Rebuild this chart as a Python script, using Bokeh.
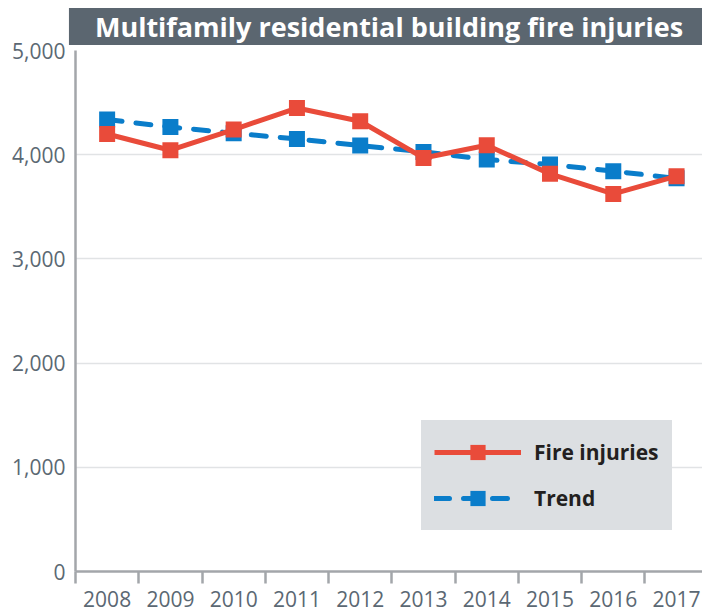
from bokeh.plotting import figure
from bokeh.models import FixedTicker, NumeralTickFormatter, Legend, LegendItem, Range1d
from bokeh.embed import file_html
from bokeh.resources import INLINE

years = ["2008", "2009", "2010", "2011", "2012", "2013", "2014", "2015", "2016", "2017"]
fire_injuries = [4199, 4043, 4241, 4448, 4321, 3969, 4091, 3816, 3624, 3794]
trend = [4337, 4266, 4206, 4151, 4088, 4027, 3954, 3906, 3842, 3773]
y_ticks = [0, 1000, 2000, 3000, 4000, 5000]

RED = "#e94b3a"
BLUE = "#0a7dca"
AXIS = "#a3a6aa"
TXT = "#5b6873"
FONT = "Open Sans"
LEG_BG = "#dcdfe2"

x = [i + 0.5 for i in range(len(years))]
boundaries = list(range(len(years) + 1))

p = figure(width=702, height=611, output_backend="svg", toolbar_location=None,
           x_range=Range1d(0, 9.91), y_range=Range1d(0, 5000),
           min_border_left=75, min_border_right=0, min_border_top=49, min_border_bottom=40,
           outline_line_color=None, background_fill_color="white")

p.title.text = "Multifamily residential building fire injuries"
p.title.align = "center"
p.title.text_font = FONT
p.title.text_font_style = "bold"
p.title.text_font_size = "27px"
p.title.text_color = "white"
p.title.background_fill_color = "#5b6670"
p.title.padding = (26, 0)
p.title.standoff = 11

# y axis
p.yaxis.ticker = FixedTicker(ticks=y_ticks)
p.yaxis.formatter = NumeralTickFormatter(format="0,0")
p.yaxis.major_tick_out = 0
p.yaxis.major_tick_in = 0
p.yaxis.minor_tick_out = 0
p.yaxis.minor_tick_in = 0
p.yaxis.axis_line_color = AXIS
p.yaxis.axis_line_width = 2.5
p.yaxis.major_label_text_font = FONT
p.yaxis.major_label_text_font_size = "21px"
p.yaxis.major_label_text_color = TXT
p.yaxis.major_label_standoff = 10

# x axis: labels at category centres, tick marks at boundaries
p.xaxis.ticker = FixedTicker(ticks=x, minor_ticks=boundaries)
p.xaxis.major_label_overrides = {xi: yr for xi, yr in zip(x, years)}
p.xaxis.major_tick_out = 0
p.xaxis.major_tick_in = 0
p.xaxis.minor_tick_out = 12
p.xaxis.minor_tick_in = 0
p.xaxis.minor_tick_line_color = AXIS
p.xaxis.minor_tick_line_width = 2.5
p.xaxis.axis_line_color = AXIS
p.xaxis.axis_line_width = 2.5
p.xaxis.major_label_text_font = FONT
p.xaxis.major_label_text_font_size = "21px"
p.xaxis.major_label_text_color = TXT
p.xaxis.major_label_standoff = 7

p.xgrid.visible = False
p.ygrid.ticker = FixedTicker(ticks=y_ticks)
p.ygrid.grid_line_color = "#e1e3e5"
p.ygrid.grid_line_width = 1.5

r_trend = p.line(x, trend, line_color=BLUE, line_width=5, line_dash="15 14", line_cap="round")
s_trend = p.scatter(x, trend, marker="square", size=16, fill_color=BLUE, line_color=None)
r_fire = p.line(x, fire_injuries, line_color=RED, line_width=5, line_join="round")
s_fire = p.scatter(x, fire_injuries, marker="square", size=16, fill_color=RED, line_color=None)

legend = Legend(items=[LegendItem(label="Fire injuries", renderers=[r_fire, s_fire]),
                       LegendItem(label="Trend", renderers=[r_trend, s_trend])],
                location=(346, 41), background_fill_color=LEG_BG, background_fill_alpha=1,
                border_line_color=LEG_BG, border_line_width=1,
                label_text_font=FONT, label_text_font_style="bold",
                label_text_font_size="21px", label_text_color="#231f20",
                glyph_width=87, glyph_height=38, label_standoff=13, spacing=8,
                padding=12, margin=0)
p.add_layout(legend)

open("out.html", "w").write(file_html(p, INLINE))
